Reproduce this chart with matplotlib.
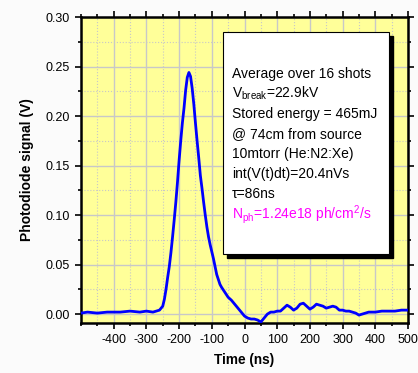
import matplotlib
matplotlib.use("Agg")
import matplotlib.pyplot as plt
from matplotlib.ticker import MultipleLocator, FixedLocator
from matplotlib.patches import Rectangle

plt.rcParams['font.family'] = ['Liberation Sans', 'DejaVu Sans']
plt.rcParams['mathtext.fontset'] = 'custom'
plt.rcParams['mathtext.rm'] = 'Liberation Sans'
plt.rcParams['mathtext.it'] = 'Liberation Sans'

# ---- data ----
time_ns = [-500, -480, -450, -420, -400, -380, -350, -320, -300, -280, -270, -260,
           -250, -245, -240, -235, -230, -225, -220, -215, -210, -205, -200, -195,
           -190, -185, -180, -175, -170, -165, -160, -155, -150, -145, -140, -135,
           -130, -125, -120, -115, -110, -105, -100, -95, -90, -85, -80, -75, -70,
           -60, -50, -40, -30, -20, -10, 0, 10, 20, 30, 40, 50, 60, 70, 80, 90, 100,
           110, 120, 130, 140, 150, 160, 170, 180, 190, 200, 210, 220, 230, 240, 250,
           260, 270, 280, 290, 300, 310, 320, 330, 340, 350, 360, 370, 380, 400, 420,
           440, 460, 480, 500]
signal_v = [0.001, 0.002, 0.001, 0.002, 0.002, 0.002, 0.003, 0.002, 0.003, 0.002, 0.003, 0.004,
            0.008, 0.015, 0.025, 0.037, 0.048, 0.062, 0.078, 0.095, 0.113, 0.133, 0.155, 0.175,
            0.193, 0.208, 0.226, 0.239, 0.244, 0.240, 0.228, 0.212, 0.193, 0.175, 0.158, 0.140,
            0.127, 0.113, 0.100, 0.088, 0.078, 0.070, 0.063, 0.056, 0.048, 0.040, 0.035, 0.030, 0.027,
            0.022, 0.017, 0.014, 0.010, 0.006, 0.002, -0.002, -0.004, -0.005, -0.005, -0.006, -0.008,
            -0.004, 0.000, 0.002, 0.002, 0.003,
            0.003, 0.006, 0.009, 0.007, 0.004, 0.006, 0.010, 0.011, 0.008, 0.005, 0.007, 0.010,
            0.009, 0.008, 0.006, 0.007, 0.008, 0.007, 0.004, 0.004, 0.003, 0.003, 0.002, 0.001,
            -0.001, 0.000, 0.001, 0.002, 0.002, 0.003, 0.003, 0.003, 0.004, 0.004]
x_ticks = [-400, -300, -200, -100, 0, 100, 200, 300, 400, 500]
y_ticks = [0.00, 0.05, 0.10, 0.15, 0.20, 0.25, 0.30]

info_lines = ["Average over 16 shots",
              r"V$_{\rm break}$=22.9kV",
              "Stored energy = 465mJ",
              "@ 74cm from source",
              "10mtorr (He:N2:Xe)",
              "int(V(t)dt)=20.4nVs",
              "\u03c4=86ns"]
nph_line = r"N$_{\rm ph}$=1.24e18 ph/cm$^{2}$/s"

W, H = 418, 373
fig = plt.figure(figsize=(W / 100, H / 100), dpi=100)
fig.patch.set_facecolor('#fbfbfb')

ax = fig.add_axes([81 / W, 1 - 323 / H, (408 - 81) / W, (323 - 17) / H])
ax.set_facecolor('#ffff99')
ax.plot(time_ns, signal_v, color='#0000ff', lw=2.0, zorder=3)

ax.set_xlim(-500, 500)
ax.set_ylim(-0.009, 0.30)
ax.xaxis.set_major_locator(FixedLocator(x_ticks))
ax.xaxis.set_minor_locator(MultipleLocator(50))
ax.yaxis.set_major_locator(FixedLocator(y_ticks))
ax.yaxis.set_minor_locator(MultipleLocator(0.025))
ax.set_xticklabels([str(v) for v in x_ticks])
ax.set_yticklabels([f"{v:.2f}" for v in y_ticks])

ax.grid(which='major', color='#c8c8c8', lw=1.0, ls='-', zorder=0)
ax.grid(which='minor', color='#c8c8c8', lw=0.8, ls=':', zorder=0)
ax.set_axisbelow(True)

ax.tick_params(which='both', direction='out', top=True, right=True,
               labelsize=9, width=1.2, pad=4)
ax.tick_params(which='major', length=4)
ax.tick_params(which='minor', length=2.5)
for sp in ax.spines.values():
    sp.set_linewidth(1.8)

ax.set_xlabel("Time (ns)", fontsize=9.8, fontweight='bold', labelpad=5)
ax.set_ylabel("Photodiode signal (V)", fontsize=10, fontweight='bold', labelpad=8)

# text box with drop shadow
bx0, by0, bx1, by1 = 223, 32, 389, 254
fig.add_artist(Rectangle(((bx0 + 4) / W, 1 - (by1 + 4) / H), (bx1 - bx0) / W, (by1 - by0) / H,
                         transform=fig.transFigure, facecolor='black', edgecolor='black', zorder=5))
fig.add_artist(Rectangle((bx0 / W, 1 - by1 / H), (bx1 - bx0) / W, (by1 - by0) / H,
                         transform=fig.transFigure, facecolor='white', edgecolor='black',
                         lw=0.8, zorder=6))
base = 78
for i, s in enumerate(info_lines):
    fig.text(232 / W, 1 - (base + 20 * i) / H, s, fontsize=10, ha='left', va='baseline',
             color='black', zorder=7)
fig.text(232 / W, 1 - (base + 20 * 7 + 1) / H, nph_line, fontsize=10, ha='left',
         va='baseline', color='#ff00ff', zorder=7)

fig.savefig("out.png", dpi=100)
